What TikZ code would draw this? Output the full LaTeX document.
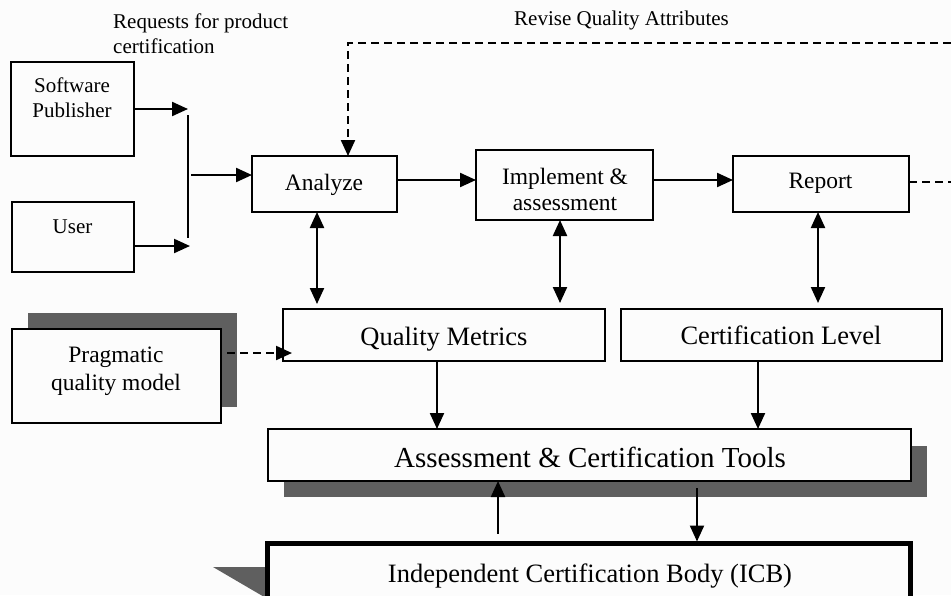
\documentclass[tikz,border=0pt]{standalone}
\usepackage{fontspec}
\setmainfont{Liberation Serif}
\usetikzlibrary{arrows.meta}
\definecolor{bg}{RGB}{252,252,252}
\definecolor{shadowc}{RGB}{95,95,95}
\tikzset{
  boxn/.style={draw=black, line width=2pt, fill=bg, inner sep=0pt, outer sep=0pt},
  lbl/.style={inner sep=0pt, anchor=base},
  conn/.style={line width=2.2pt},
  arr/.style={line width=2.2pt, -{Triangle[length=16pt,width=14pt]}},
  darr/.style={line width=2.2pt, {Triangle[length=16pt,width=14pt]}-{Triangle[length=16pt,width=14pt]}},
  dsh/.style={line width=2.2pt, dash pattern=on 8pt off 5pt},
  fS/.style={font=\fontsize{21}{24.5}\selectfont},
  fM/.style={font=\fontsize{23.5}{26}\selectfont},
  fL/.style={font=\fontsize{26.5}{30}\selectfont},
  fX/.style={font=\fontsize{29}{32}\selectfont}
}
\begin{document}
\begin{tikzpicture}[x=1pt,y=-1pt]
\useasboundingbox (0,0) rectangle (951,595);
\fill[bg] (0,0) rectangle (951,595);

% boxes
\node[boxn, minimum width=123pt, minimum height=94pt] (SP) at (72.5,109) {};
\node[boxn, minimum width=122pt, minimum height=70pt] (U) at (73,237) {};
\node[boxn, minimum width=145pt, minimum height=56pt] (An) at (324.5,184) {};
\node[boxn, minimum width=177pt, minimum height=70pt] (Im) at (564.5,185) {};
\node[boxn, minimum width=176pt, minimum height=56pt] (Re) at (821,184) {};
\node[boxn, minimum width=322pt, minimum height=52pt] (QM) at (444,335) {};
\node[boxn, minimum width=321pt, minimum height=52pt] (CL) at (781.5,335) {};
\fill[shadowc] (28,313) rectangle (237,407);
\node[boxn, minimum width=209pt, minimum height=94pt] (PQ) at (116.5,376) {};
\fill[shadowc] (284,446) rectangle (927,497);
\node[boxn, minimum width=643pt, minimum height=52pt] (AC) at (589.5,455) {};
\fill[shadowc] (213,567) -- (268,567) -- (268,598) -- (266,598) -- cycle;
\node[draw=black, line width=5pt, fill=bg, inner sep=0pt, outer sep=0pt, minimum width=643pt, minimum height=68pt] (ICB) at (589,577.5) {};

% texts (base = baseline of last line for multi-line nodes)
\node[lbl, fS, align=left, anchor=base west] (req) at (113,53) {Requests for product\\certification};
\node[lbl, fS] (rev) at (621.5,25) {Revise Quality Attributes};
\node[lbl, fS, align=center] (tSP) at (72,117) {Software\\Publisher};
\node[lbl, fS] (tU) at (72.5,233) {User};
\node[lbl, fM] (tAn) at (324,190) {Analyze};
\node[lbl, fM, align=center] (tIm) at (565,210) {Implement \&\\assessment};
\node[lbl, fM] (tRe) at (820.5,188) {Report};
\node[lbl, fL] (tQM) at (444,345) {Quality Metrics};
\node[lbl, fL] (tCL) at (781,344) {Certification Level};
\node[lbl, font=\fontsize{23.5}{28}\selectfont, align=center] (tPQ) at (116,390) {Pragmatic\\quality model};
\node[lbl, fX] (tAC) at (590,467) {Assessment \& Certification Tools};
\node[lbl, fL] (tICB) at (590,582) {Independent Certification Body (ICB)};

% junction
\coordinate (j1) at (188,109);
\coordinate (j2) at (190,246);
\coordinate (jt) at (188,115);
\coordinate (jb) at (188,238);
\coordinate (jm) at (191,175);
\draw[arr] (SP.east |- j1) -- (j1);
\draw[arr] (U.east |- j2) -- (j2);
\draw[conn] (jt) -- (jb);
\draw[arr] (jm) -- (jm -| An.west);

% main flow
\coordinate (yA) at (0,180);
\draw[arr] (An.east |- yA) -- (Im.west |- yA);
\draw[arr] (Im.east |- yA) -- (Re.west |- yA);

% feedback
\coordinate (fr) at (951,182);
\coordinate (ft) at (951,43);
\coordinate (tc) at (348,43);
\draw[dsh] (Re.east |- fr) -- (fr);
\draw[dsh, arr] (ft) -- (tc) -- (tc |- An.north);

% double arrows
\coordinate (xa) at (317,0);
\coordinate (xi) at (560,0);
\coordinate (xr) at (818,0);
\draw[darr, shorten >=5pt] (xa |- An.south) -- (xa |- QM.north);
\draw[darr, shorten >=6pt] (xi |- Im.south) -- (xi |- QM.north);
\draw[darr, shorten >=6pt] (xr |- Re.south) -- (xr |- CL.north);

% down to tools
\coordinate (xq) at (437,0);
\coordinate (xc) at (758,0);
\draw[arr] (xq |- QM.south) -- (xq |- AC.north);
\draw[arr] (xc |- CL.south) -- (xc |- AC.north);

% ICB links
\coordinate (xu) at (498,0);
\coordinate (xd) at (697,0);
\draw[arr, shorten <=10pt] (xu |- ICB.north) -- (xu |- AC.south);
\draw[arr, shorten <=7pt, shorten >=2pt] (xd |- AC.south) -- (xd |- ICB.north);

% pragmatic model
\coordinate (yp) at (0,353);
\draw[dsh, arr, shorten <=6pt, shorten >=-9pt] (PQ.east |- yp) -- (QM.west |- yp);
\end{tikzpicture}
\end{document}
